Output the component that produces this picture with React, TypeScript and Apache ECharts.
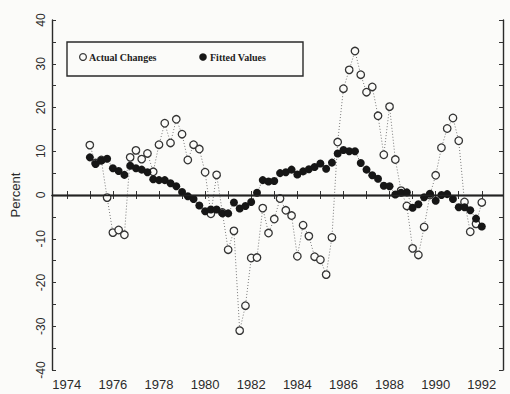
import React, { useEffect, useRef } from "react";
import * as echarts from "echarts";

// Quarterly observations, 1975Q1 .. 1992Q1
const startYear = 1975;
const actualChanges: number[] = [
  11.4, 7.3, 8.0, -0.6, -8.6, -8.0, -9.1, 8.6, 10.2, 8.2,
  9.5, 5.3, 11.5, 16.4, 11.9, 17.3, 13.9, 8.0, 11.5, 10.5,
  5.2, -4.3, 4.6, -4.0, -12.5, -8.2, -31.0, -25.3, -14.4, -14.3,
  -3.0, -8.7, -5.5, -0.8, -3.5, -4.7, -14.0, -6.9, -9.4, -14.1,
  -14.8, -18.2, -9.7, 12.1, 24.3, 28.6, 32.9, 27.5, 23.5, 24.7,
  18.1, 9.2, 20.2, 8.1, 1.0, -2.5, -12.2, -13.7, -7.3, 0.0,
  4.5, 10.8, 15.2, 17.6, 12.4, -1.6, -8.4, -6.6, -1.7,
];
const fittedValues: number[] = [
  8.6, 7.1, 7.9, 8.3, 6.1, 5.5, 4.6, 6.7, 6.1, 5.8,
  5.2, 3.6, 3.4, 3.4, 2.7, 2.0, 0.7, -0.3, -0.9, -2.4,
  -3.7, -3.3, -3.3, -4.2, -4.2, -1.7, -3.1, -2.5, -1.6, 0.5,
  3.4, 3.1, 3.2, 5.0, 5.2, 5.8, 4.7, 5.4, 5.9, 6.4,
  7.2, 6.0, 7.4, 9.5, 10.3, 10.0, 10.0, 7.3, 5.8, 4.5,
  3.7, 2.1, 2.0, 0.1, 0.5, 0.6, -2.9, -2.1, -0.5, 0.3,
  -1.3, 0.0, 0.2, -0.9, -2.8, -2.8, -3.5, -5.4, -7.2,
];
const tickYears: number[] = [1974, 1975, 1976, 1977, 1978, 1979, 1980, 1981, 1982, 1983, 1984, 1985, 1986, 1987, 1988, 1989, 1990, 1991, 1992];
const labelYears: number[] = [1974, 1976, 1978, 1980, 1982, 1984, 1986, 1988, 1990, 1992];
const yTickLabels: number[] = [-40, -30, -20, -10, 0, 10, 20, 30, 40];

const quarterOf = (i: number) => startYear + i / 4;

export default function App() {
  const ref = useRef<HTMLDivElement>(null);
  useEffect(() => {
    if (!ref.current) return;
    const chart = echarts.init(ref.current, null, { renderer: "svg" });
    const textColor = "#2b2b2b";
    const bg = "#fbfbf9";
    const axisLine = { show: true, lineStyle: { color: "#2a2a2a", width: 1.4 } };
    const xMin = 1973.36;
    const xMax = 1992.92;
    chart.setOption({
      animation: false,
      backgroundColor: bg,
      grid: { left: 52, right: 7, top: 20, bottom: 24 },
      xAxis: [
        {
          type: "value",
          min: xMin,
          max: xMax,
          position: "bottom",
          axisLine,
          splitLine: { show: false },
          axisTick: { inside: true, length: 4, customValues: tickYears, lineStyle: { color: "#333" } },
          axisLabel: {
            customValues: labelYears,
            margin: 8,
            color: textColor,
            fontFamily: "Liberation Sans",
            fontSize: 13,
            formatter: (v: number) => String(Math.round(v)),
          },
        },
        {
          type: "value",
          min: xMin,
          max: xMax,
          position: "top",
          axisLine,
          splitLine: { show: false },
          axisTick: { inside: true, length: 4, customValues: tickYears, lineStyle: { color: "#333" } },
          axisLabel: { show: false },
        },
      ],
      yAxis: [
        {
          type: "value",
          min: -40,
          max: 40,
          interval: 5,
          position: "left",
          name: "Percent",
          nameLocation: "middle",
          nameRotate: 90,
          nameGap: 30,
          nameTextStyle: { color: textColor, fontFamily: "Liberation Sans", fontSize: 13 },
          axisLine,
          splitLine: { show: false },
          axisTick: { inside: true, length: 4, lineStyle: { color: "#333" } },
          axisLabel: {
            rotate: 90,
            margin: 5,
            color: textColor,
            fontFamily: "Liberation Sans",
            fontSize: 12,
            formatter: (v: number) => (yTickLabels.includes(v) ? String(v) : ""),
          },
        },
        {
          type: "value",
          min: -40,
          max: 40,
          interval: 5,
          position: "right",
          axisLine,
          splitLine: { show: false },
          axisTick: { inside: true, length: 4, lineStyle: { color: "#333" } },
          axisLabel: { show: false },
        },
      ],
      series: [
        {
          name: "Actual Changes",
          type: "line",
          data: actualChanges.map((v, i) => [quarterOf(i), v]),
          symbol: "circle",
          symbolSize: 7.5,
          itemStyle: { color: bg, borderColor: "#333", borderWidth: 1.3 },
          lineStyle: { color: "#7a7a7a", width: 1, type: [1, 2] },
          markLine: {
            silent: true,
            symbol: "none",
            label: { show: false },
            lineStyle: { color: "#222", type: "solid", width: 1.3 },
            data: [{ yAxis: 0 }],
          },
          z: 2,
        },
        {
          name: "Fitted Values",
          type: "line",
          data: fittedValues.map((v, i) => [quarterOf(i), v]),
          symbol: "circle",
          symbolSize: 8,
          itemStyle: { color: "#161616" },
          lineStyle: { color: "#666", width: 1, type: [1, 2] },
          z: 3,
        },
      ],
      graphic: [
        {
          type: "rect",
          shape: { x: 67, y: 42, width: 236, height: 34 },
          style: { fill: "none", stroke: "#2a2a2a", lineWidth: 1.4 },
          z: 10,
        },
        {
          type: "circle",
          shape: { cx: 83, cy: 57, r: 3.4 },
          style: { fill: bg, stroke: "#333", lineWidth: 1.2 },
          z: 10,
        },
        {
          type: "text",
          x: 89,
          y: 57,
          style: {
            text: "Actual Changes",
            fill: "#222",
            font: "bold 10px 'Liberation Serif'",
            verticalAlign: "middle",
          },
          z: 10,
        },
        {
          type: "circle",
          shape: { cx: 203, cy: 57, r: 3.8 },
          style: { fill: "#161616" },
          z: 10,
        },
        {
          type: "text",
          x: 210,
          y: 57,
          style: {
            text: "Fitted Values",
            fill: "#222",
            font: "bold 10px 'Liberation Serif'",
            verticalAlign: "middle",
          },
          z: 10,
        },
      ],
    });
    return () => chart.dispose();
  }, []);
  return (
    <div
      ref={ref}
      style={{ position: "fixed", left: 0, top: 0, width: 510, height: 394 }}
    />
  );
}
